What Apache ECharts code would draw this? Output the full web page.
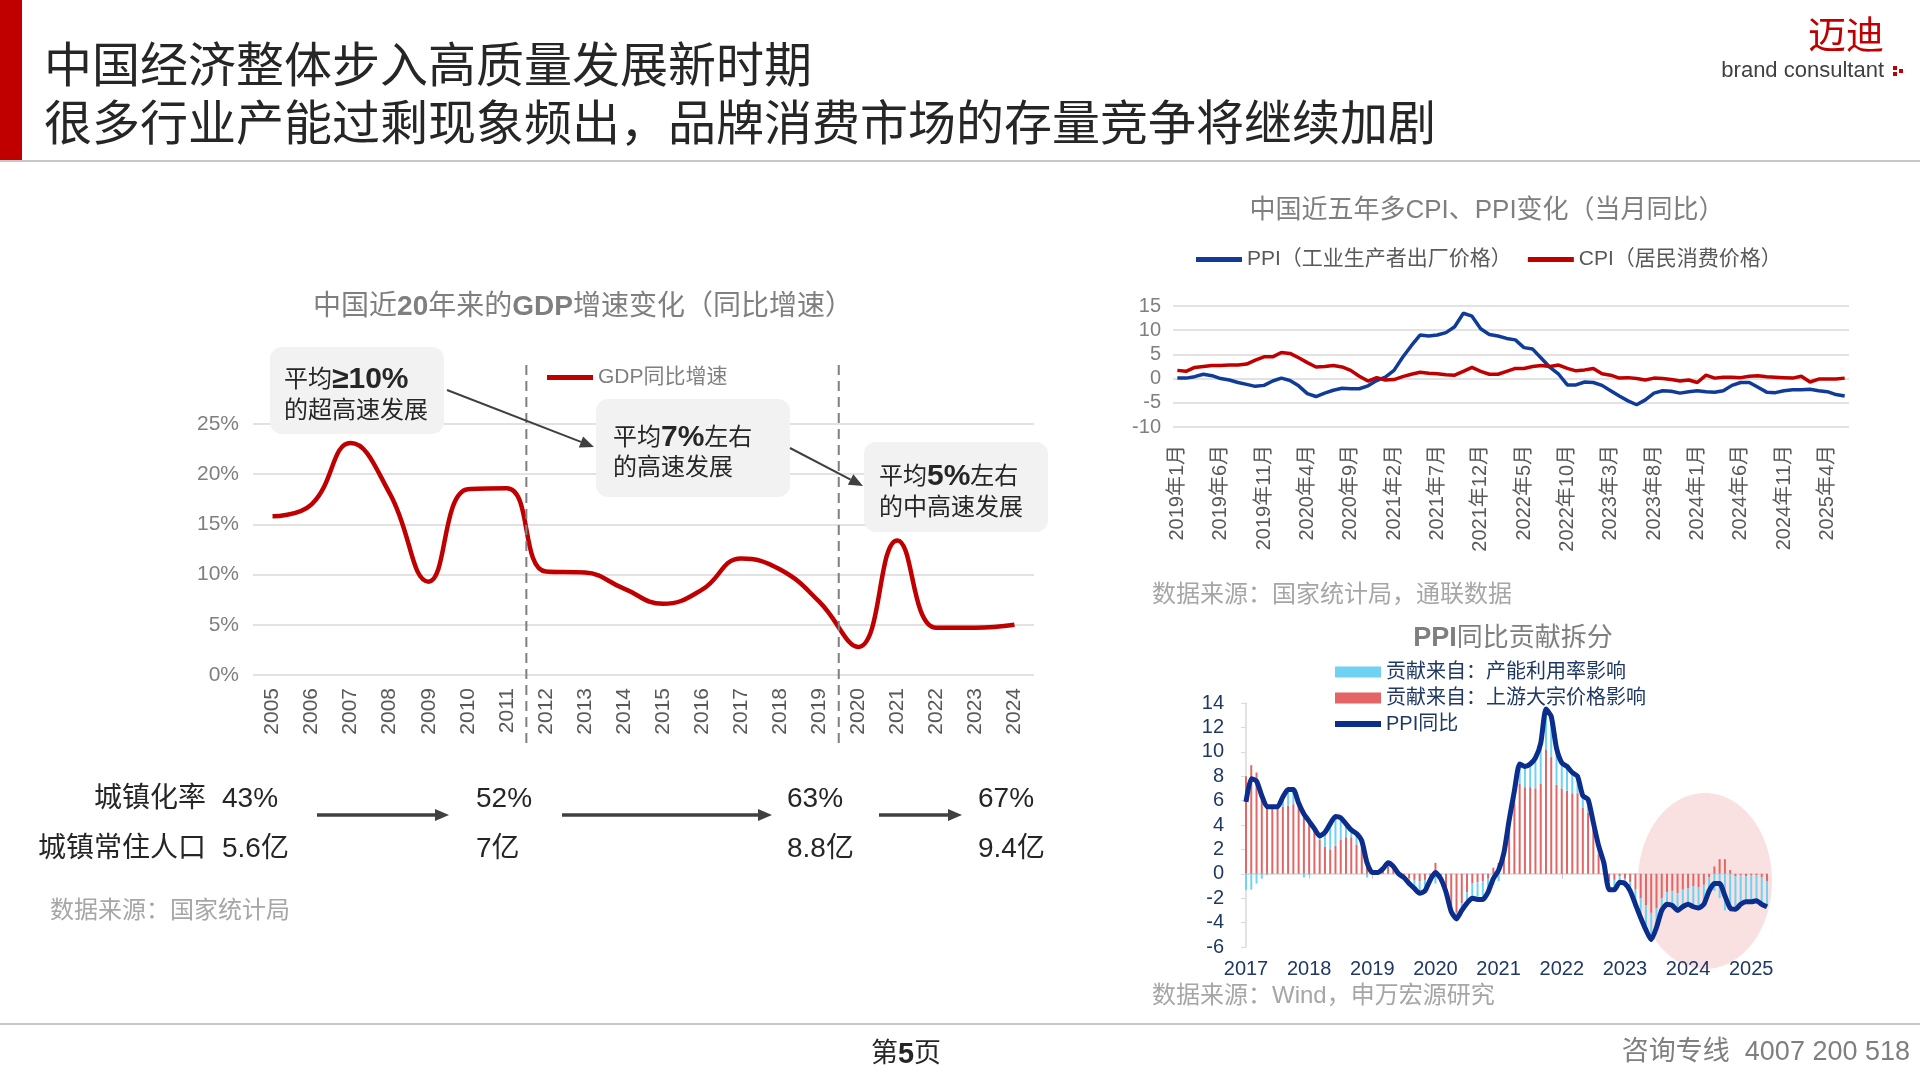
<!DOCTYPE html>
<html>
<head>
<meta charset="utf-8">
<title>中国经济整体步入高质量发展新时期</title>
<script src="https://cdn.jsdelivr.net/npm/echarts@6/dist/echarts.min.js"></script>
<style>
html, body { margin: 0; padding: 0; background: #fff; }
#main { width: 1920px; height: 1080px; }
</style>
</head>
<body>
<div id="main"></div>
<script>
var FONT = '"Liberation Sans", "Noto Sans CJK SC", sans-serif';

// GDP 同比增速（名义）
var gdpYears = ['2005', '2006', '2007', '2008', '2009', '2010', '2011', '2012', '2013', '2014',
    '2015', '2016', '2017', '2018', '2019', '2020', '2021', '2022', '2023', '2024'];
var gdpGrowth = [15.8, 17.0, 23.1, 18.1, 9.3, 18.5, 18.6, 10.3, 10.2, 8.6,
    7.1, 8.5, 11.6, 10.5, 7.3, 2.8, 13.4, 4.7, 4.7, 5.0];

// 城镇化
var urbanRate = ['43%', '52%', '63%', '67%'];
var urbanPop = ['5.6亿', '7亿', '8.8亿', '9.4亿'];

// CPI / PPI 当月同比, 2019年1月 - 2025年6月
var ppiMonthly = [
    0.1, 0.1, 0.4, 0.9, 0.6, 0.0, -0.3, -0.8, -1.2, -1.6, -1.4, -0.5,
    0.1, -0.4, -1.5, -3.1, -3.7, -3.0, -2.4, -2.0, -2.1, -2.1, -1.5, -0.4,
    0.3, 1.7, 4.4, 6.8, 9.0, 8.8, 9.0, 9.5, 10.7, 13.5, 12.9, 10.3,
    9.1, 8.8, 8.3, 8.0, 6.4, 6.1, 4.2, 2.3, 0.9, -1.3, -1.3, -0.7,
    -0.8, -1.4, -2.5, -3.6, -4.6, -5.4, -4.4, -3.0, -2.5, -2.6, -3.0, -2.7,
    -2.5, -2.7, -2.8, -2.5, -1.4, -0.8, -0.8, -1.8, -2.8, -2.9, -2.5, -2.3,
    -2.3, -2.2, -2.5, -2.7, -3.3, -3.6
];
var cpiMonthly = [
    1.7, 1.5, 2.3, 2.5, 2.7, 2.7, 2.8, 2.8, 3.0, 3.8, 4.5, 4.5,
    5.4, 5.2, 4.3, 3.3, 2.4, 2.5, 2.7, 2.4, 1.7, 0.5, -0.5, 0.2,
    -0.3, -0.2, 0.4, 0.9, 1.3, 1.1, 1.0, 0.8, 0.7, 1.5, 2.3, 1.5,
    0.9, 0.9, 1.5, 2.1, 2.1, 2.5, 2.7, 2.5, 2.8, 2.1, 1.6, 1.8,
    2.1, 1.0, 0.7, 0.1, 0.2, 0.0, -0.3, 0.1, 0.0, -0.2, -0.5, -0.3,
    -0.8, 0.7, 0.1, 0.3, 0.3, 0.2, 0.5, 0.6, 0.4, 0.3, 0.2, 0.1,
    0.5, -0.7, -0.1, -0.1, -0.1, 0.1
];

// PPI 同比贡献拆分, 2017-1 - 2025-4
var ppiYoY = [
    5.9, 7.8, 7.6, 6.4, 5.5, 5.5, 5.5, 6.3, 6.9, 6.9, 5.8, 4.9,
    4.3, 3.7, 3.1, 3.4, 4.1, 4.7, 4.6, 4.1, 3.6, 3.3, 2.7, 0.9,
    0.1, 0.1, 0.4, 0.9, 0.6, 0.0, -0.3, -0.8, -1.2, -1.6, -1.4, -0.5,
    0.1, -0.4, -1.5, -3.1, -3.7, -3.0, -2.4, -2.0, -2.1, -2.1, -1.5, -0.4,
    0.3, 1.7, 4.4, 6.8, 9.0, 8.8, 9.0, 9.5, 10.7, 13.5, 12.9, 10.3,
    9.1, 8.8, 8.3, 8.0, 6.4, 6.1, 4.2, 2.3, 0.9, -1.3, -1.3, -0.7,
    -0.8, -1.4, -2.5, -3.6, -4.6, -5.4, -4.4, -3.0, -2.5, -2.6, -3.0, -2.7,
    -2.5, -2.7, -2.8, -2.5, -1.4, -0.8, -0.8, -1.8, -2.8, -2.9, -2.5, -2.3,
    -2.3, -2.2, -2.5, -2.7
];
var commodityPart = [
    8.0, 8.9, 8.3, 6.8, 5.6, 5.4, 5.4, 5.5, 5.6, 5.7, 5.5, 5.2,
    4.4, 3.6, 2.8, 2.2, 2.0, 2.3, 2.8, 3.0, 3.0, 2.4, 2.1, 1.2,
    0.0, -0.1, 0.3, 0.6, 0.4, 0.0, -0.2, -0.4, -0.5, -0.6, -0.5, -0.1,
    0.9, -0.4, -1.3, -2.6, -3.2, -2.4, -1.5, -0.8, -0.7, -0.6, -0.4, 0.5,
    0.9, 1.5, 3.8, 5.8, 7.4, 7.1, 7.1, 7.0, 7.4, 10.2, 9.6, 7.3,
    7.0, 6.8, 6.6, 6.6, 5.4, 5.0, 3.6, 1.6, 0.3, -0.6, -0.5, -0.2,
    -0.4, -0.7, -1.3, -2.0, -2.6, -3.2, -2.8, -2.0, -1.5, -1.4, -1.6, -1.3,
    -1.2, -1.0, -1.1, -0.9, -0.3, 0.6, 1.2, 1.2, 0.3, -0.2, -0.1, -0.2,
    -0.1, -0.1, -0.3, -0.6
];
var capacityPart = [
    -1.3, -1.3, -0.8, -0.4, -0.1, 0.1, 0.1, 0.8, 1.3, 1.2, 0.3, -0.3,
    -0.1, 0.1, 0.3, 1.2, 2.1, 2.4, 1.8, 1.1, 0.6, 0.9, 0.6, -0.3,
    0.1, 0.2, 0.1, 0.3, 0.2, 0.0, -0.1, -0.4, -0.7, -1.0, -0.9, -0.4,
    -0.8, 0.0, -0.2, -0.5, -0.5, -0.6, -0.9, -1.2, -1.4, -1.5, -1.1, -0.9,
    -0.6, 0.2, 0.6, 1.0, 1.6, 1.7, 1.9, 2.5, 3.3, 3.3, 3.3, 3.0,
    2.1, 2.0, 1.7, 1.4, 1.0, 1.1, 0.6, 0.7, 0.6, -0.7, -0.8, -0.5,
    -0.4, -0.7, -1.2, -1.6, -2.0, -2.2, -1.6, -1.0, -1.0, -1.2, -1.4, -1.4,
    -1.3, -1.7, -1.7, -1.6, -1.1, -1.4, -2.0, -3.0, -3.1, -2.7, -2.4, -2.1,
    -2.2, -2.1, -2.2, -2.1
];

function monthList(y0, n, cn) {
    var a = [];
    for (var i = 0; i < n; i++) {
        var y = y0 + Math.floor(i / 12), m = i % 12 + 1;
        a.push(cn ? y + '年' + m + '月' : y + '-' + m);
    }
    return a;
}
var cpiMonths = monthList(2019, ppiMonthly.length, true);
var decompMonths = monthList(2017, ppiYoY.length, false);

var myChart = echarts.init(document.getElementById('main'));

function txt(x, y, text, size, color, opts) {
    opts = opts || {};
    return {
        type: 'text', z: 100,
        style: {
            x: x, y: y, text: text,
            fontSize: size, fontFamily: FONT,
            fontWeight: opts.weight || 'normal',
            fill: color,
            textAlign: opts.align || 'left',
            textVerticalAlign: 'middle', verticalAlign: 'middle',
            rich: opts.rich
        }
    };
}

function arrow(x1, y1, x2, y2, color, w, head) {
    var ang = Math.atan2(y2 - y1, x2 - x1);
    var hx = x2 - head * Math.cos(ang), hy = y2 - head * Math.sin(ang);
    var px = -Math.sin(ang) * head * 0.42, py = Math.cos(ang) * head * 0.42;
    return [
        { type: 'line', z: 100, shape: { x1: x1, y1: y1, x2: hx, y2: hy }, style: { stroke: color, lineWidth: w } },
        { type: 'polygon', z: 100, shape: { points: [[x2, y2], [hx + px, hy + py], [hx - px, hy - py]] }, style: { fill: color } }
    ];
}

function box(x, y, w, h) {
    return { type: 'rect', z: 99, shape: { x: x, y: y, width: w, height: h, r: 12 }, style: { fill: '#f2f2f2' } };
}

function rich2(size, color, boldSize) {
    return {
        n: { fontSize: size, fontFamily: FONT, fill: color, color: color },
        b: { fontSize: boldSize || size, fontFamily: FONT, fontWeight: 'bold', fill: color, color: color }
    };
}

var lineIcon = 'path://M0,0L46,0L46,5L0,5Z';

var graphics = [
    // header
    { type: 'rect', shape: { x: 0, y: 0, width: 22, height: 160 }, style: { fill: '#c00000' } },
    { type: 'rect', shape: { x: 0, y: 160, width: 1920, height: 2 }, style: { fill: '#c8c8c8' } },
    txt(44, 69, '中国经济整体步入高质量发展新时期', 48, '#262626'),
    txt(44, 127, '很多行业产能过剩现象频出，品牌消费市场的存量竞争将继续加剧', 48, '#262626'),
    txt(1884, 38, '迈迪', 38, '#c00000', { align: 'right' }),
    txt(1884, 71, 'brand consultant', 22, '#404040', { align: 'right' }),
    { type: 'rect', shape: { x: 1893, y: 66, width: 4, height: 4 }, style: { fill: '#c00000' } },
    { type: 'rect', shape: { x: 1893, y: 72, width: 4, height: 4 }, style: { fill: '#c00000' } },
    { type: 'rect', shape: { x: 1899, y: 69, width: 4, height: 4 }, style: { fill: '#c00000' } },
    // footer
    { type: 'rect', shape: { x: 0, y: 1023, width: 1920, height: 2 }, style: { fill: '#c8c8c8' } },
    txt(906, 1055, '{n|第}{b|5}{n|页}', 27, '#262626', { align: 'center', rich: rich2(27, '#262626', 29) }),
    txt(1910, 1053, '咨询专线  4007 200 518', 27, '#7f7f7f', { align: 'right' }),
    // chart titles
    txt(583, 307, '{n|中国近}{b|20}{n|年来的}{b|GDP}{n|增速变化（同比增速）}', 28, '#7f7f7f', { align: 'center', rich: rich2(28, '#7f7f7f') }),
    txt(1487, 211, '中国近五年多CPI、PPI变化（当月同比）', 26, '#7f7f7f', { align: 'center' }),
    txt(1513, 639, '{b|PPI}{n|同比贡献拆分}', 26, '#7f7f7f', { align: 'center', rich: rich2(26, '#7f7f7f', 27) }),
    // sources
    txt(50, 911, '数据来源：国家统计局', 24, '#a6a6a6'),
    txt(1152, 595, '数据来源：国家统计局，通联数据', 24, '#a6a6a6'),
    txt(1152, 996, '数据来源：Wind，申万宏源研究', 24, '#a6a6a6'),
    // annotation boxes
    box(270, 347, 174, 87),
    txt(284, 380, '{n|平均}{b|≥10%}', 24, '#262626', { rich: rich2(24, '#262626', 30) }),
    txt(284, 411, '的超高速发展', 24, '#262626'),
    box(596, 399, 194, 98),
    txt(613, 438, '{n|平均}{b|7%}{n|左右}', 24, '#262626', { rich: rich2(24, '#262626', 30) }),
    txt(613, 468, '的高速发展', 24, '#262626'),
    box(864, 442, 184, 90),
    txt(879, 477, '{n|平均}{b|5%}{n|左右}', 24, '#262626', { rich: rich2(24, '#262626', 30) }),
    txt(879, 508, '的中高速发展', 24, '#262626'),
    // pink highlight
    { type: 'ellipse', z: 0, shape: { cx: 1705, cy: 881, rx: 67, ry: 88 }, style: { fill: '#f9e1e1' } },
    // urbanization rows
    txt(206, 799, '城镇化率', 28, '#262626', { align: 'right' }),
    txt(206, 849, '城镇常住人口', 28, '#262626', { align: 'right' })
];
graphics = graphics.concat(arrow(447, 390, 594, 447, '#404040', 2, 14));
graphics = graphics.concat(arrow(790, 448, 863, 486, '#404040', 2, 14));
var urbanX = [222, 476, 787, 978];
for (var k = 0; k < urbanRate.length; k++) {
    graphics.push(txt(urbanX[k], 799, urbanRate[k], 28, '#262626'));
    graphics.push(txt(urbanX[k], 849, urbanPop[k], 28, '#262626'));
}
graphics = graphics.concat(arrow(317, 815, 449, 815, '#404040', 3.5, 14));
graphics = graphics.concat(arrow(562, 815, 772, 815, '#404040', 3.5, 14));
graphics = graphics.concat(arrow(879, 815, 962, 815, '#404040', 3.5, 14));

var option = {
    animation: false,
    textStyle: { fontFamily: FONT },
    legend: [
        {
            left: 547, top: 367, padding: 0,
            itemWidth: 46, itemHeight: 10,
            textStyle: { fontSize: 21, color: '#7f7f7f', fontFamily: FONT },
            data: [{ name: 'GDP同比增速', icon: lineIcon }]
        },
        {
            left: 1196, top: 249, padding: 0, itemGap: 16,
            itemWidth: 46, itemHeight: 10,
            textStyle: { fontSize: 21, color: '#595959', fontFamily: FONT },
            data: [
                { name: 'PPI（工业生产者出厂价格）', icon: lineIcon },
                { name: 'CPI（居民消费价格）', icon: lineIcon }
            ]
        },
        {
            left: 1335, top: 662, padding: 0, orient: 'vertical', itemGap: 6,
            itemWidth: 46, itemHeight: 11,
            textStyle: { fontSize: 20, color: '#1f3864', fontFamily: FONT, lineHeight: 20 },
            data: [
                { name: '贡献来自：产能利用率影响', icon: 'rect' },
                { name: '贡献来自：上游大宗价格影响', icon: 'rect' },
                { name: 'PPI同比', icon: 'path://M0,0L46,0L46,6L0,6Z' }
            ]
        }
    ],
    grid: [
        { left: 253, right: 886, top: 424, bottom: 405 },
        { left: 1173, right: 71, top: 306, bottom: 653 },
        { left: 1246, right: 153, top: 703, bottom: 133 }
    ],
    xAxis: [
        {
            type: 'category', gridIndex: 0, data: gdpYears, boundaryGap: true,
            axisLine: { show: false }, axisTick: { show: false },
            axisLabel: { rotate: 90, fontSize: 21, color: '#595959', margin: 13, fontFamily: FONT }
        },
        {
            type: 'category', gridIndex: 1, data: cpiMonths, boundaryGap: true,
            axisLine: { show: false }, axisTick: { show: false },
            axisLabel: { rotate: 90, interval: 4, fontSize: 20, color: '#595959', margin: 18, fontFamily: FONT }
        },
        {
            type: 'category', gridIndex: 2, data: decompMonths, boundaryGap: false, position: 'bottom',
            axisLine: { show: false, onZero: false }, axisTick: { show: false },
            axisLabel: {
                fontSize: 20, color: '#1f3864', margin: 12, fontFamily: FONT,
                interval: function (i, v) { return /-1$/.test(v); },
                formatter: function (v) { return v.split('-')[0]; }
            }
        },
        {
            type: 'category', gridIndex: 2, data: decompMonths, boundaryGap: false, position: 'bottom',
            axisLine: { show: true, onZero: true, lineStyle: { color: '#d9d9d9', width: 1.5 } },
            axisTick: {
                show: true, length: 5, lineStyle: { color: '#c8c8c8' },
                interval: function (i, v) { return /-1$/.test(v); }
            },
            axisLabel: { show: false }
        }
    ],
    yAxis: [
        {
            type: 'value', gridIndex: 0, min: 0, max: 25, interval: 5,
            axisLine: { show: false }, axisTick: { show: false },
            axisLabel: { formatter: '{value}%', fontSize: 21, color: '#7f7f7f', margin: 14, fontFamily: FONT },
            splitLine: { lineStyle: { color: '#d9d9d9', width: 1.5 } }
        },
        {
            type: 'value', gridIndex: 1, min: -10, max: 15, interval: 5,
            axisLine: { show: false }, axisTick: { show: false },
            axisLabel: { fontSize: 20, color: '#7f7f7f', margin: 12, fontFamily: FONT },
            splitLine: { lineStyle: { color: '#d9d9d9', width: 1.5 } }
        },
        {
            type: 'value', gridIndex: 2, min: -6, max: 14, interval: 2,
            axisLine: { show: true, lineStyle: { color: '#d9d9d9', width: 1.5 } },
            axisTick: { show: true, length: 5, lineStyle: { color: '#d9d9d9' } },
            axisLabel: { fontSize: 20, color: '#1f3864', margin: 22, fontFamily: FONT },
            splitLine: { show: false }
        }
    ],
    series: [
        {
            name: 'GDP同比增速', type: 'line', xAxisIndex: 0, yAxisIndex: 0,
            data: gdpGrowth, smooth: 0.45, symbol: 'none',
            itemStyle: { color: '#c00000' },
            lineStyle: { color: '#c00000', width: 4.5 }
        },
        {
            name: 'PPI（工业生产者出厂价格）', type: 'line', xAxisIndex: 1, yAxisIndex: 1,
            data: ppiMonthly, symbol: 'none',
            itemStyle: { color: '#103c98' },
            lineStyle: { color: '#103c98', width: 3.5 }
        },
        {
            name: 'CPI（居民消费价格）', type: 'line', xAxisIndex: 1, yAxisIndex: 1,
            data: cpiMonthly, symbol: 'none',
            itemStyle: { color: '#c00000' },
            lineStyle: { color: '#c00000', width: 3.5 }
        },
        {
            name: '贡献来自：上游大宗价格影响', type: 'bar', xAxisIndex: 2, yAxisIndex: 2,
            stack: 'ppi', data: commodityPart, barWidth: 2,
            itemStyle: { color: '#e36565' }
        },
        {
            name: '贡献来自：产能利用率影响', type: 'bar', xAxisIndex: 2, yAxisIndex: 2,
            stack: 'ppi', data: capacityPart, barWidth: 2,
            itemStyle: { color: '#6fd2f3' }
        },
        {
            name: 'PPI同比', type: 'line', xAxisIndex: 2, yAxisIndex: 2,
            data: ppiYoY, smooth: 0.2, symbol: 'none', z: 5,
            itemStyle: { color: '#0b2d8c' },
            lineStyle: { color: '#0b2d8c', width: 5 }
        }
    ]
};

myChart.setOption(option);

// 两条阶段分隔虚线，落在 2011|2012、2019|2020 之间
var cut1 = (myChart.convertToPixel({ xAxisIndex: 0 }, '2011') + myChart.convertToPixel({ xAxisIndex: 0 }, '2012')) / 2;
var cut2 = (myChart.convertToPixel({ xAxisIndex: 0 }, '2019') + myChart.convertToPixel({ xAxisIndex: 0 }, '2020')) / 2;
[cut1, cut2].forEach(function (x) {
    graphics.push({
        type: 'line', z: 50,
        shape: { x1: x, y1: 365, x2: x, y2: 748 },
        style: { stroke: '#7f7f7f', lineWidth: 2, lineDash: [10, 6] }
    });
});

myChart.setOption({ graphic: graphics });
</script>
</body>
</html>
